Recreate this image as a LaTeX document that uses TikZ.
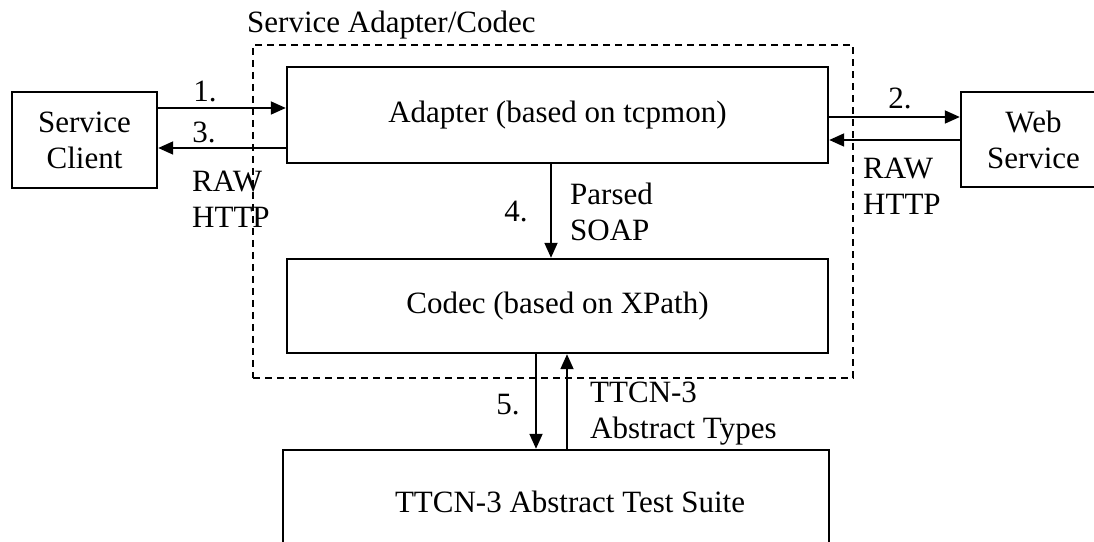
\documentclass[tikz,border=0pt]{standalone}
\usepackage{fontspec}
\setmainfont{Liberation Serif}
\usetikzlibrary{arrows.meta}

\tikzset{
  x=1pt, y=1pt,
  txt/.style={font=\fontsize{31}{36}\selectfont, inner sep=0pt, align=left},
  box/.style={draw, line width=2.4pt, inner sep=0pt, align=center,
              font=\fontsize{31}{36}\selectfont},
  group/.style={draw, dashed, dash pattern=on 7pt off 5pt, line width=1.8pt, inner sep=0pt},
  arr/.style={line width=1.8pt, -{Triangle[length=15pt, width=13pt]}},
}

\begin{document}
\begin{tikzpicture}
  \clip (0,0) rectangle (1094,541);
  \fill[white] (0,0) rectangle (1094,541);

  % service adapter / codec group
  \node[group, minimum width=600, minimum height=333] (sac) at (553,329.5) {};
  \node[txt, anchor=base west] (sactitle) at (247,508) {Service Adapter/Codec};

  % components
  \node[box, minimum width=145, minimum height=96] (client) at (84.5,401) {Service\\Client};
  \node[box, minimum width=541, minimum height=96] (adapter) at (557.5,426) {Adapter (based on tcpmon)};
  \node[box, minimum width=145, minimum height=95] (web) at (1033.5,401.5) {Web\\Service};
  \node[box, minimum width=541, minimum height=94] (codec) at (557.5,235) {Codec (based on XPath)};
  \node[box, minimum width=546, minimum height=104] (ttcn) at (556,39) {};
  \node[txt] (ttcntext) at (570,39) {TTCN-3 Abstract Test Suite};

  % client <-> adapter
  \draw[arr] (client.east |- 0,433) -- (adapter.west |- 0,433);
  \draw[arr] (adapter.west |- 0,393) -- (client.east |- 0,393);
  \node[txt] (l1) at (205,450) {1.};
  \node[txt] (l3) at (204,409) {3.};
  \node[txt, anchor=west] (rawl) at (192,341.5) {RAW\\HTTP};

  % adapter <-> web service
  \draw[arr] (adapter.east |- 0,424) -- (web.west |- 0,424);
  \draw[arr] (web.west |- 0,401) -- (adapter.east |- 0,401);
  \node[txt] (l2) at (900,443) {2.};
  \node[txt, anchor=west] (rawr) at (863,354.5) {RAW\\HTTP};

  % adapter -> codec
  \draw[arr] (adapter.south -| 551,0) -- (codec.north -| 551,0);
  \node[txt] (l4) at (516,329) {4.};
  \node[txt, anchor=west] (soap) at (570,329.5) {Parsed\\SOAP};

  % codec <-> test suite
  \draw[arr] (codec.south -| 536,0) -- (ttcn.north -| 536,0);
  \draw[arr] (ttcn.north -| 567,0) -- (codec.south -| 567,0);
  \node[txt] (l5) at (508,136) {5.};
  \node[txt, anchor=west] (types) at (590,127) {TTCN-3\\Abstract Types};
\end{tikzpicture}
\end{document}
